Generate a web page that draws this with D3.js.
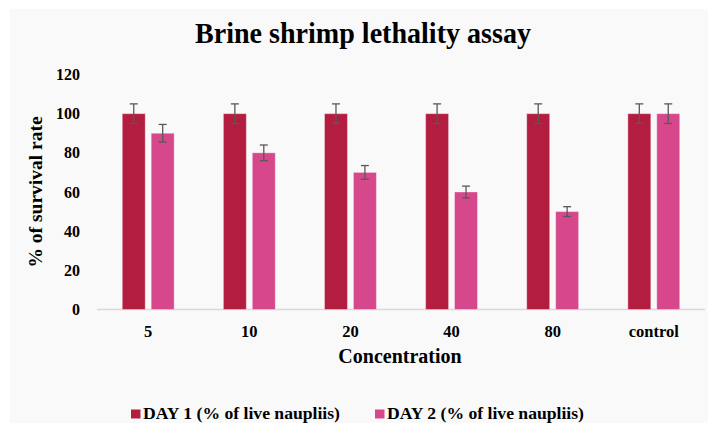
<!DOCTYPE html>
<html><head><meta charset="utf-8">
<script src="https://cdn.jsdelivr.net/npm/d3@7"></script>
<style>body{margin:0;background:#fff}svg{display:block}</style>
</head><body>
<svg id="c" width="708" height="423"></svg>
<script>
const categories = ["5","10","20","40","80","control"];
const seriesNames = ["DAY 1 (% of live naupliis)","DAY 2 (% of live naupliis)"];
const day1 = [100,100,100,100,100,100];
const day2 = [90,80,70,60,50,100];
const err1 = [5,5,5,5,5,5];
const err2 = [4.5,4,3.5,3,2.5,5];
const yTicks = [0,20,40,60,80,100,120];
const colors = ["#b31e40","#d6478b"];

const svg = d3.select("#c");
const font = "'Liberation Serif','Times New Roman',serif";
svg.append("rect").attr("x",10).attr("y",9).attr("width",698).attr("height",414).attr("fill","#f9f9f9");

const m = {l:97, r:705, t:74.5, b:309.5};
const x = d3.scaleBand().domain(categories).range([m.l,m.r]).paddingInner(0.487).paddingOuter(0.25);
const x1 = d3.scaleBand().domain([0,1]).range([0,x.bandwidth()]).paddingInner(0.207);
const y = d3.scaleLinear().domain([0,120]).range([m.b,m.t]);

// y axis labels
const ya = svg.append("g").attr("transform",`translate(${m.l},0)`).call(d3.axisLeft(y).tickValues(yTicks).tickSize(0).tickPadding(17));
ya.select(".domain").remove();
ya.selectAll("text").attr("font-family",font).attr("font-weight","bold").attr("font-size","16px").attr("fill","#000");

// baseline
svg.append("line").attr("x1",m.l).attr("x2",m.r).attr("y1",y(0)).attr("y2",y(0)).attr("stroke","#d9d9d9").attr("stroke-width",1.3);

const data = categories.map((c,i)=>({c, v:[day1[i],day2[i]], e:[err1[i],err2[i]]}));
const g = svg.append("g").selectAll("g").data(data).join("g").attr("transform",d=>`translate(${x(d.c)},0)`);
g.selectAll("rect").data(d=>d.v.map((v,j)=>({v,j}))).join("rect")
  .attr("x",d=>x1(d.j)).attr("width",x1.bandwidth())
  .attr("y",d=>y(d.v)).attr("height",d=>y(0)-y(d.v))
  .attr("fill",d=>colors[d.j]).attr("stroke","rgba(255,255,255,0.35)").attr("stroke-width",1);
const eb = g.selectAll("g.eb").data(d=>d.v.map((v,j)=>({v,e:d.e[j],j}))).join("g").attr("class","eb")
  .attr("stroke","#595959").attr("stroke-width",1.3);
const cx = d=>x1(d.j)+x1.bandwidth()/2;
eb.append("line").attr("x1",cx).attr("x2",cx).attr("y1",d=>y(d.v+d.e)).attr("y2",d=>y(d.v-d.e));
eb.append("line").attr("x1",d=>cx(d)-4).attr("x2",d=>cx(d)+4).attr("y1",d=>y(d.v+d.e)).attr("y2",d=>y(d.v+d.e));
eb.append("line").attr("x1",d=>cx(d)-4).attr("x2",d=>cx(d)+4).attr("y1",d=>y(d.v-d.e)).attr("y2",d=>y(d.v-d.e));

// x axis
const xa = svg.append("g").attr("transform",`translate(0,${m.b})`).call(d3.axisBottom(x).tickSize(0).tickPadding(16));
xa.select(".domain").remove();
xa.selectAll("text").attr("font-family",font).attr("font-weight","bold").attr("font-size","16.5px").attr("fill","#000");

// titles
svg.append("text").attr("x",363).attr("y",43).attr("text-anchor","middle").attr("font-family",font).attr("font-weight","bold").attr("font-size","30px")
  .attr("textLength",336).attr("lengthAdjust","spacingAndGlyphs").text("Brine shrimp lethality assay");
svg.append("text").attr("x",400).attr("y",363).attr("text-anchor","middle").attr("font-family",font).attr("font-weight","bold").attr("font-size","20px").text("Concentration");
svg.append("text").attr("transform",`translate(42,${(m.t+m.b)/2}) rotate(-90)`).attr("text-anchor","middle").attr("font-family",font).attr("font-weight","bold").attr("font-size","19.5px").text("% of survival rate");

// legend
const lx = [131,375];
const lg = svg.append("g").selectAll("g").data(seriesNames).join("g").attr("transform",(d,i)=>`translate(${lx[i]},418.5)`);
lg.append("rect").attr("x",0).attr("y",-9).attr("width",9.5).attr("height",9).attr("fill",(d,i)=>colors[i]);
lg.append("text").attr("x",12).attr("y",0).attr("font-family",font).attr("font-weight","bold").attr("font-size","16px")
  .attr("textLength",197).attr("lengthAdjust","spacingAndGlyphs").text(d=>d);
</script>
</body></html>
